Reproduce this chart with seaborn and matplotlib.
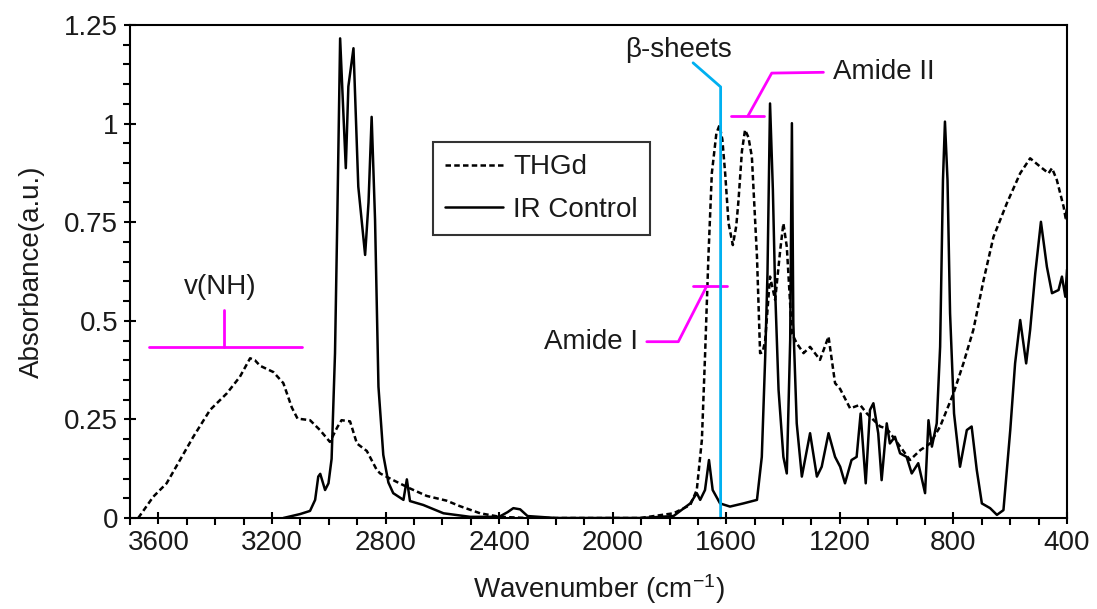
import matplotlib
matplotlib.use("Agg")
import matplotlib.pyplot as plt
from matplotlib.ticker import MultipleLocator, FuncFormatter
from matplotlib.lines import Line2D
import seaborn as sns
import pandas as pd

# ---------------- data ----------------
thgd_wn = [3671, 3618, 3571, 3524, 3477, 3418, 3359, 3313, 3277, 3260, 3242, 3195, 3160, 3130,
           3110, 3066, 3031, 2996, 2970, 2955, 2925, 2901, 2866, 2831, 2819, 2773, 2714, 2655,
           2585, 2538, 2467, 2397, 2300, 2100, 1904, 1786, 1727, 1704, 1686, 1675, 1663, 1651,
           1635, 1624, 1614, 1604, 1592, 1577, 1565, 1557, 1545, 1534, 1522, 1510, 1492, 1481,
           1472, 1463, 1446, 1428, 1410, 1399, 1387, 1369, 1352, 1328, 1305, 1270, 1240, 1217,
           1199, 1164, 1129, 1105, 1058, 1035, 1000, 953, 917, 882, 847, 800, 765, 730, 694,
           659, 612, 565, 530, 495, 465, 453, 436, 412, 405, 400]
thgd_abs = [0.0, 0.054, 0.088, 0.147, 0.206, 0.274, 0.316, 0.358, 0.405, 0.400, 0.386, 0.370,
            0.342, 0.280, 0.252, 0.248, 0.223, 0.193, 0.230, 0.248, 0.245, 0.189, 0.170, 0.122,
            0.113, 0.096, 0.075, 0.056, 0.044, 0.030, 0.012, 0.003, 0.0, 0.0, 0.0, 0.012, 0.033,
            0.071, 0.198, 0.409, 0.663, 0.874, 0.975, 0.996, 0.960, 0.874, 0.747, 0.692, 0.740,
            0.806, 0.930, 0.984, 0.965, 0.916, 0.663, 0.418, 0.420, 0.451, 0.612, 0.553, 0.680,
            0.747, 0.688, 0.468, 0.443, 0.418, 0.434, 0.401, 0.460, 0.342, 0.327, 0.278, 0.287,
            0.265, 0.232, 0.227, 0.193, 0.147, 0.172, 0.189, 0.232, 0.316, 0.392, 0.477, 0.603,
            0.713, 0.798, 0.874, 0.912, 0.891, 0.874, 0.887, 0.857, 0.789, 0.760, 0.790]

ctrl_wn = [3160, 3101, 3066, 3048, 3037, 3030, 3013, 3001, 2990, 2978, 2970, 2960, 2950, 2940,
           2931, 2913, 2896, 2872, 2860, 2849, 2837, 2825, 2808, 2790, 2773, 2737, 2725, 2714,
           2667, 2596, 2502, 2400, 2370, 2350, 2326, 2300, 2200, 1900, 1786, 1727, 1704, 1692,
           1675, 1661, 1648, 1622, 1587, 1540, 1492, 1475, 1463, 1455, 1446, 1436, 1428, 1416,
           1399, 1387, 1375, 1369, 1364, 1352, 1334, 1305, 1281, 1264, 1240, 1217, 1199, 1182,
           1159, 1141, 1127, 1109, 1094, 1082, 1065, 1053, 1035, 1024, 1006, 988, 965, 947, 924,
           900, 888, 876, 859, 847, 837, 830, 821, 812, 798, 777, 753, 736, 718, 700, 671, 647,
           624, 600, 583, 565, 544, 530, 512, 492, 471, 453, 430, 418, 406, 400]
ctrl_abs = [0.0, 0.010, 0.018, 0.046, 0.105, 0.112, 0.071, 0.088, 0.150, 0.418, 0.756, 1.216,
            1.050, 0.887, 1.094, 1.191, 0.840, 0.667, 0.800, 1.017, 0.756, 0.333, 0.160, 0.090,
            0.063, 0.046, 0.098, 0.043, 0.033, 0.012, 0.003, 0.003, 0.015, 0.025, 0.022, 0.005,
            0.0, 0.0, 0.005, 0.037, 0.063, 0.046, 0.071, 0.147, 0.071, 0.037, 0.029, 0.037,
            0.046, 0.155, 0.409, 0.620, 1.051, 0.832, 0.578, 0.325, 0.155, 0.113, 0.451, 1.001,
            0.494, 0.240, 0.105, 0.215, 0.105, 0.130, 0.215, 0.155, 0.130, 0.088, 0.147, 0.155,
            0.265, 0.088, 0.274, 0.291, 0.215, 0.096, 0.240, 0.189, 0.206, 0.164, 0.155, 0.113,
            0.139, 0.063, 0.248, 0.181, 0.240, 0.434, 0.857, 1.005, 0.857, 0.519, 0.265, 0.130,
            0.223, 0.232, 0.122, 0.037, 0.025, 0.008, 0.020, 0.223, 0.392, 0.502, 0.392, 0.477,
            0.620, 0.751, 0.637, 0.570, 0.578, 0.612, 0.561, 0.630]

series_names = ["THGd", "IR Control"]
x_ticks = [3600, 3200, 2800, 2400, 2000, 1600, 1200, 800, 400]
y_ticks = [0, 0.25, 0.5, 0.75, 1, 1.25]

# annotation anchor values (wavenumber, absorbance)
beta_wn = 1620
nh_label = "v(NH)"
amide1_label = "Amide I"
amide2_label = "Amide II"
beta_label = "β-sheets"

# ---------------- style ----------------
sns.set_theme(style="white")
plt.rcParams["font.family"] = ["Liberation Sans", "DejaVu Sans"]
plt.rcParams["mathtext.fontset"] = "custom"
plt.rcParams["mathtext.rm"] = "Liberation Sans"
plt.rcParams["mathtext.it"] = "Liberation Sans:italic"

FS = 20
MAG = "#FF00FF"
CYAN = "#00B0F0"
TXT = "#1a1a1a"

fig = plt.figure(figsize=(10.97, 6.09), dpi=100)
ax = fig.add_axes([0.1185, 0.1494, 0.8542, 0.8096])

df_t = pd.DataFrame({"wn": thgd_wn, "A": thgd_abs})
df_c = pd.DataFrame({"wn": ctrl_wn, "A": ctrl_abs})

sns.lineplot(data=df_t, x="wn", y="A", ax=ax, color="black", lw=1.8,
             estimator=None, sort=False, linestyle=(0, (2.2, 1.3)))
sns.lineplot(data=df_c, x="wn", y="A", ax=ax, color="black", lw=1.8,
             estimator=None, sort=False)

ax.set_xlim(3700, 400)
ax.set_ylim(0, 1.25)

ax.xaxis.set_minor_locator(MultipleLocator(100))
ax.yaxis.set_minor_locator(MultipleLocator(0.05))
ax.set_xticks(x_ticks)
ax.set_yticks(y_ticks)
ax.yaxis.set_major_formatter(FuncFormatter(lambda v, p: f"{v:g}"))

ax.tick_params(axis="both", which="major", direction="inout", length=9, width=1.5,
               labelsize=FS, color="black", labelcolor=TXT, pad=4)
ax.tick_params(axis="both", which="minor", direction="out", length=5, width=1.5, color="black")
ax.tick_params(axis="x", which="both", bottom=True, top=False)
ax.tick_params(axis="y", which="both", left=True, right=False)

for s in ax.spines.values():
    s.set_color("black")
    s.set_linewidth(1.5)

ax.set_xlabel(r"Wavenumber (cm$^{\mathregular{-1}}$)", fontsize=FS, color=TXT, labelpad=12)
ax.set_ylabel("Absorbance(a.u.)", fontsize=FS, color=TXT, labelpad=14)

# ---- annotations ----
# v(NH)
ax.plot([3632, 3095], [0.434, 0.434], color=MAG, lw=2)
ax.plot([3368, 3368], [0.434, 0.527], color=MAG, lw=2)
ax.text(3383, 0.586, nh_label, fontsize=FS, ha="center", va="center", color=TXT)

# Amide I
ax.plot([1716, 1598], [0.588, 0.588], color=MAG, lw=2)
ax.plot([1669, 1769, 1880], [0.588, 0.447, 0.447], color=MAG, lw=2)
ax.text(1912, 0.447, amide1_label, fontsize=FS, ha="right", va="center", color=TXT)

# Amide II
ax.plot([1584, 1468], [1.019, 1.019], color=MAG, lw=2)
ax.plot([1524, 1440, 1258], [1.019, 1.128, 1.130], color=MAG, lw=2)
ax.text(1224, 1.132, amide2_label, fontsize=FS, ha="left", va="center", color=TXT)

# beta-sheets
ax.plot([beta_wn, beta_wn, 1717], [0, 1.093, 1.154], color=CYAN, lw=2, clip_on=False)
ax.text(1770, 1.187, beta_label, fontsize=FS, ha="center", va="center", color=TXT)

# ---- legend ----
handles = [Line2D([], [], color="black", lw=1.8, linestyle=(0, (2.2, 1.3))),
           Line2D([], [], color="black", lw=1.8)]
leg = ax.legend(handles, series_names, loc="upper left", bbox_to_anchor=(0.323, 0.763),
                fontsize=FS, frameon=True, fancybox=False, handlelength=2.1,
                handletextpad=0.35, labelspacing=0.6, borderpad=0.45, borderaxespad=0)
leg.get_frame().set_edgecolor("black")
leg.get_frame().set_linewidth(1.5)
for t in leg.get_texts():
    t.set_color(TXT)

fig.savefig("out.png", dpi=100)
